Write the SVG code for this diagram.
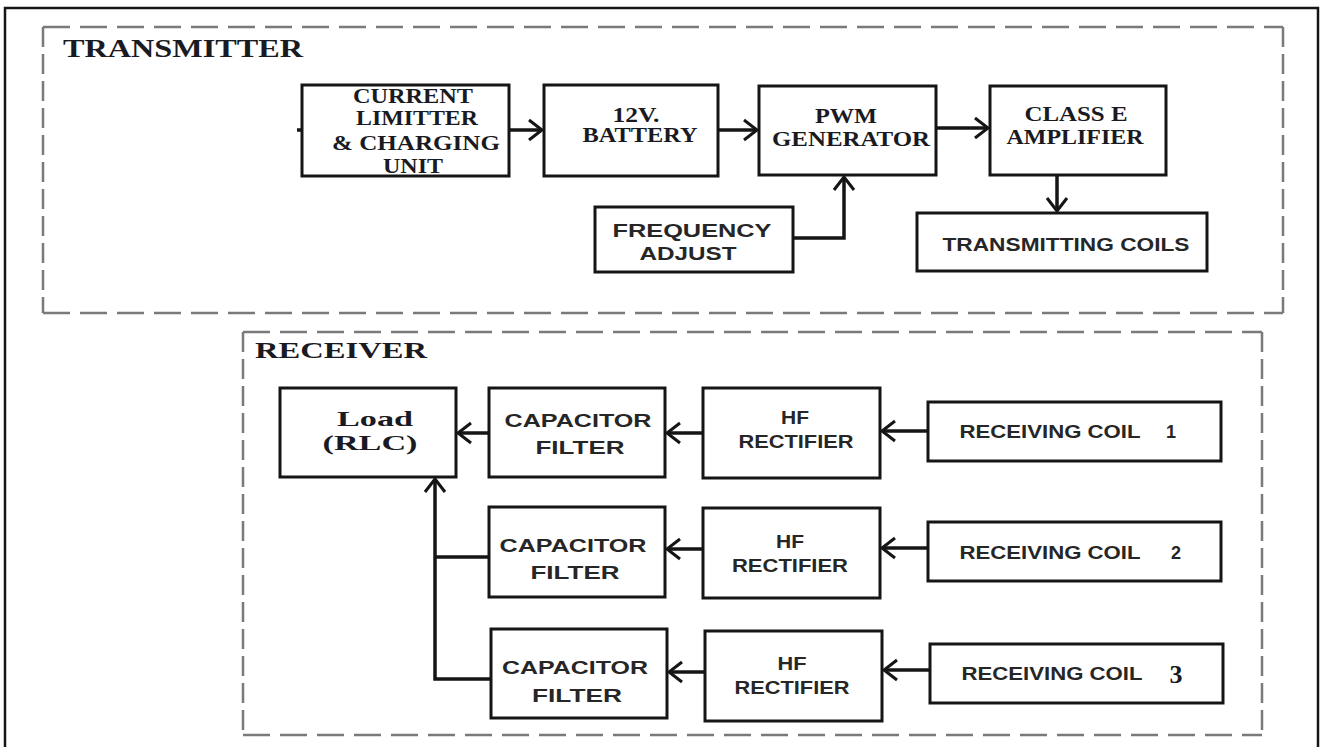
<svg xmlns="http://www.w3.org/2000/svg" width="1320" height="747" viewBox="0 0 1320 747">
<defs>
<style>
.box{fill:#fff;stroke:#151515;stroke-width:3}
.con{fill:none;stroke:#151515;stroke-width:3.5}
.dh{fill:none;stroke:#7a7a7a;stroke-width:2.5;stroke-dasharray:27 10}
.dv{fill:none;stroke:#7a7a7a;stroke-width:2.5;stroke-dasharray:20 7}
.sf{font-family:"Liberation Serif","Times New Roman",serif;font-weight:bold;fill:#1a1a22;text-anchor:middle}
.ss{font-family:"Liberation Sans",Arial,sans-serif;font-weight:bold;fill:#262626;text-anchor:middle}
</style>
<marker id="ah" markerUnits="userSpaceOnUse" orient="auto" overflow="visible" markerWidth="30" markerHeight="30" refX="0" refY="0">
<path d="M-13,-10 L0,0 L-13,10" fill="none" stroke="#151515" stroke-width="3"/>
</marker>
</defs>
<rect width="1320" height="747" fill="#fff"/>
<path d="M5,747 V8 H1318 V747" fill="none" stroke="#151515" stroke-width="2.5"/>

<g id="transmitter-frame">
<line class="dh" x1="43" y1="27" x2="1283" y2="27"/>
<line class="dh" x1="43" y1="313" x2="1283" y2="313"/>
<line class="dv" x1="43" y1="27" x2="43" y2="313"/>
<line class="dv" x1="1283" y1="27" x2="1283" y2="313"/>
<text class="sf" x="183" y="57" font-size="26" textLength="240" lengthAdjust="spacingAndGlyphs">TRANSMITTER</text>
</g>

<g id="receiver-frame">
<line class="dh" x1="243" y1="332" x2="1262" y2="332"/>
<line class="dh" x1="243" y1="735" x2="1262" y2="735"/>
<line class="dv" x1="243" y1="332" x2="243" y2="735"/>
<line class="dv" x1="1262" y1="332" x2="1262" y2="735"/>
<text class="sf" x="341" y="358" font-size="24" textLength="172" lengthAdjust="spacingAndGlyphs">RECEIVER</text>
</g>

<g id="current-limiter">
<rect class="box" x="302" y="85" width="207" height="91"/>
<text class="sf" x="413" y="103" font-size="20" textLength="120" lengthAdjust="spacingAndGlyphs">CURRENT</text>
<text class="sf" x="417" y="125" font-size="20" textLength="122" lengthAdjust="spacingAndGlyphs">LIMITTER</text>
<text class="sf" x="416" y="150" font-size="20" textLength="168" lengthAdjust="spacingAndGlyphs">&amp; CHARGING</text>
<text class="sf" x="413" y="173" font-size="20" textLength="60" lengthAdjust="spacingAndGlyphs">UNIT</text>
</g>

<g id="battery">
<rect class="box" x="544" y="85" width="174" height="91"/>
<text class="sf" x="636" y="122" font-size="20" textLength="47" lengthAdjust="spacingAndGlyphs">12V.</text>
<text class="sf" x="640" y="142" font-size="20" textLength="115" lengthAdjust="spacingAndGlyphs">BATTERY</text>
</g>

<g id="pwm-generator">
<rect class="box" x="759" y="86" width="177" height="89"/>
<text class="sf" x="846" y="123" font-size="20" textLength="62" lengthAdjust="spacingAndGlyphs">PWM</text>
<text class="sf" x="851" y="146" font-size="20" textLength="158" lengthAdjust="spacingAndGlyphs">GENERATOR</text>
</g>

<g id="class-e-amplifier">
<rect class="box" x="990" y="86" width="176" height="89"/>
<text class="sf" x="1076" y="121" font-size="20" textLength="103" lengthAdjust="spacingAndGlyphs">CLASS E</text>
<text class="sf" x="1075" y="144" font-size="20" textLength="137" lengthAdjust="spacingAndGlyphs">AMPLIFIER</text>
</g>

<g id="frequency-adjust">
<rect class="box" x="595" y="207" width="198" height="65"/>
<text class="ss" x="692" y="237" font-size="19" textLength="159" lengthAdjust="spacingAndGlyphs">FREQUENCY</text>
<text class="ss" x="688" y="260" font-size="19" textLength="97" lengthAdjust="spacingAndGlyphs">ADJUST</text>
</g>

<g id="transmitting-coils">
<rect class="box" x="917" y="213" width="290" height="58"/>
<text class="ss" x="1066" y="251" font-size="18" textLength="247" lengthAdjust="spacingAndGlyphs">TRANSMITTING COILS</text>
</g>

<g id="load">
<rect class="box" x="280" y="388" width="176" height="89"/>
<text class="sf" x="375" y="426" font-size="22" textLength="76" lengthAdjust="spacingAndGlyphs">Load</text>
<text class="sf" x="370" y="450" font-size="22" textLength="95" lengthAdjust="spacingAndGlyphs">(RLC)</text>
</g>

<g id="capacitor-filter-1">
<rect class="box" x="489" y="388" width="176" height="89"/>
<text class="ss" x="578" y="427" font-size="19" textLength="147" lengthAdjust="spacingAndGlyphs">CAPACITOR</text>
<text class="ss" x="580" y="454" font-size="19" textLength="89" lengthAdjust="spacingAndGlyphs">FILTER</text>
</g>

<g id="capacitor-filter-2">
<rect class="box" x="489" y="507" width="176" height="90"/>
<text class="ss" x="573" y="552" font-size="19" textLength="147" lengthAdjust="spacingAndGlyphs">CAPACITOR</text>
<text class="ss" x="575" y="579" font-size="19" textLength="89" lengthAdjust="spacingAndGlyphs">FILTER</text>
</g>

<g id="capacitor-filter-3">
<rect class="box" x="491" y="629" width="176" height="89"/>
<text class="ss" x="575" y="674" font-size="19" textLength="146" lengthAdjust="spacingAndGlyphs">CAPACITOR</text>
<text class="ss" x="577" y="702" font-size="19" textLength="90" lengthAdjust="spacingAndGlyphs">FILTER</text>
</g>

<g id="hf-rectifier-1">
<rect class="box" x="703" y="388" width="177" height="90"/>
<text class="ss" x="795" y="424" font-size="18" textLength="28" lengthAdjust="spacingAndGlyphs">HF</text>
<text class="ss" x="796" y="448" font-size="18" textLength="115" lengthAdjust="spacingAndGlyphs">RECTIFIER</text>
</g>

<g id="hf-rectifier-2">
<rect class="box" x="703" y="508" width="177" height="90"/>
<text class="ss" x="790" y="548" font-size="18" textLength="28" lengthAdjust="spacingAndGlyphs">HF</text>
<text class="ss" x="790" y="572" font-size="18" textLength="116" lengthAdjust="spacingAndGlyphs">RECTIFIER</text>
</g>

<g id="hf-rectifier-3">
<rect class="box" x="705" y="631" width="177" height="90"/>
<text class="ss" x="792" y="670" font-size="18" textLength="29" lengthAdjust="spacingAndGlyphs">HF</text>
<text class="ss" x="792" y="694" font-size="18" textLength="115" lengthAdjust="spacingAndGlyphs">RECTIFIER</text>
</g>

<g id="receiving-coil-1">
<rect class="box" x="928" y="402" width="293" height="59"/>
<text class="ss" x="1050" y="438" font-size="18" textLength="181" lengthAdjust="spacingAndGlyphs">RECEIVING COIL</text>
<text class="ss" x="1171" y="438" font-size="18">1</text>
</g>

<g id="receiving-coil-2">
<rect class="box" x="928" y="522" width="293" height="59"/>
<text class="ss" x="1050" y="559" font-size="18" textLength="181" lengthAdjust="spacingAndGlyphs">RECEIVING COIL</text>
<text class="ss" x="1176" y="559" font-size="18">2</text>
</g>

<g id="receiving-coil-3">
<rect class="box" x="930" y="644" width="293" height="59"/>
<text class="ss" x="1052" y="680" font-size="18" textLength="181" lengthAdjust="spacingAndGlyphs">RECEIVING COIL</text>
<text class="sf" x="1176" y="683" font-size="26" fill="#1a2440">3</text>
</g>

<g id="connectors">
<line class="con" x1="297" y1="130" x2="302" y2="130"/>
<line class="con" x1="509" y1="130" x2="542" y2="130" marker-end="url(#ah)"/>
<line class="con" x1="718" y1="130" x2="757" y2="130" marker-end="url(#ah)"/>
<line class="con" x1="936" y1="128" x2="988" y2="128" marker-end="url(#ah)"/>
<polyline class="con" points="793,238 844,238 844,177" marker-end="url(#ah)"/>
<line class="con" x1="1057" y1="175" x2="1057" y2="211" marker-end="url(#ah)"/>
<line class="con" x1="489" y1="433" x2="458" y2="433" marker-end="url(#ah)"/>
<line class="con" x1="703" y1="433" x2="667" y2="433" marker-end="url(#ah)"/>
<line class="con" x1="928" y1="431" x2="882" y2="431" marker-end="url(#ah)"/>
<line class="con" x1="928" y1="548" x2="882" y2="548" marker-end="url(#ah)"/>
<line class="con" x1="703" y1="549" x2="667" y2="549" marker-end="url(#ah)"/>
<line class="con" x1="930" y1="670" x2="884" y2="670" marker-end="url(#ah)"/>
<line class="con" x1="705" y1="672" x2="669" y2="672" marker-end="url(#ah)"/>
<line class="con" x1="489" y1="557" x2="435" y2="557"/>
<polyline class="con" points="491,679 435,679 435,479" marker-end="url(#ah)"/>
</g>
</svg>
